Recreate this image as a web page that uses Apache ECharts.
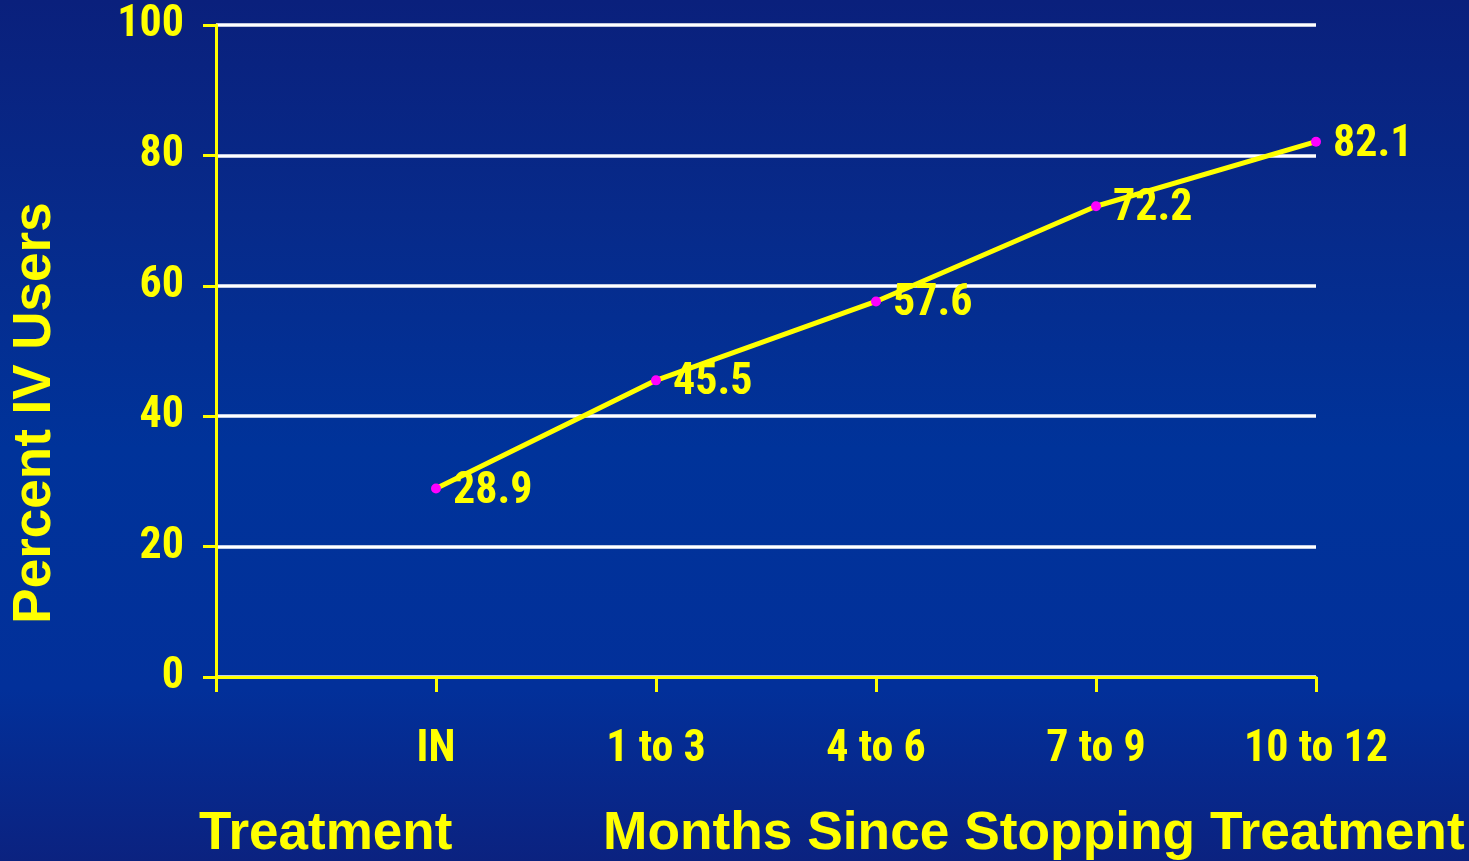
<!DOCTYPE html>
<html>
<head>
<meta charset="utf-8">
<title>Percent IV Users</title>
<script src="https://cdn.jsdelivr.net/npm/echarts@6/dist/echarts.min.js"></script>
<style>
    html, body { margin: 0; padding: 0; }
    #chart {
        width: 1469px;
        height: 861px;
        background: linear-gradient(180deg, #0a207c 0%, #072a8a 25%, #00339a 52%, #02309a 80%, #0b2280 100%);
    }
</style>
</head>
<body>
<div id="chart"></div>
<script>
// first slot is the blank origin category
const CATEGORIES = ['', 'IN', '1 to 3', '4 to 6', '7 to 9', '10 to 12'];
const PERCENT_IV = [null, 28.9, 45.5, 57.6, 72.2, 82.1];
const Y_TICKS = [0, 20, 40, 60, 80, 100];

const YELLOW = '#ffff00';
const NARROW = "'Roboto Condensed', 'Liberation Sans Narrow', 'Arial Narrow', sans-serif";
const WIDE = "'Liberation Sans', Arial, sans-serif";

const chart = echarts.init(document.getElementById('chart'));

chart.setOption({
    backgroundColor: 'transparent',
    animation: false,
    grid: {
        left: 216,
        right: 153,
        top: 25,
        bottom: 184,
        containLabel: false,
        outerBoundsMode: 'none'
    },
    title: [
        {
            text: 'Treatment',
            left: 194,
            top: 803,
            textStyle: { color: YELLOW, fontFamily: WIDE, fontWeight: 'bold', fontSize: 53 }
        },
        {
            text: 'Months Since Stopping Treatment',
            left: 598,
            top: 803,
            textStyle: { color: YELLOW, fontFamily: WIDE, fontWeight: 'bold', fontSize: 53.3 }
        }
    ],
    // y axis title sits lower than the axis centre in the original
    graphic: [{
        type: 'text',
        rotation: Math.PI / 2,
        x: 35,
        y: 413,
        style: {
            text: 'Percent IV Users',
            fill: YELLOW,
            font: "bold 53px 'Liberation Sans', Arial, sans-serif",
            align: 'center',
            verticalAlign: 'middle'
        }
    }],
    xAxis: {
        type: 'category',
        data: CATEGORIES,
        boundaryGap: false,
        axisLine: { lineStyle: { color: YELLOW, width: 3 } },
        axisTick: { show: true, length: 15, lineStyle: { color: YELLOW, width: 3 } },
        axisLabel: {
            color: YELLOW,
            fontFamily: NARROW,
            fontWeight: 'bold',
            fontSize: 44,
            margin: 51,
            interval: 0
        },
        splitLine: { show: false }
    },
    yAxis: {
        type: 'value',
        min: Y_TICKS[0],
        max: Y_TICKS[Y_TICKS.length - 1],
        interval: 20,
        axisLine: { show: true, lineStyle: { color: YELLOW, width: 3 } },
        axisTick: { show: true, length: 13, lineStyle: { color: YELLOW, width: 3 } },
        axisLabel: {
            color: YELLOW,
            fontFamily: NARROW,
            fontWeight: 'bold',
            fontSize: 44,
            margin: 32,
            padding: [8, 0, 0, 0]
        },
        splitLine: { lineStyle: { color: '#ffffff', width: 3.5 } }
    },
    series: [{
        type: 'line',
        data: PERCENT_IV,
        symbol: 'circle',
        symbolSize: 10,
        showSymbol: true,
        lineStyle: { color: YELLOW, width: 5 },
        itemStyle: { color: '#ff00ff' },
        label: {
            show: true,
            position: 'right',
            distance: 12,
            offset: [0, 3],
            color: YELLOW,
            fontFamily: NARROW,
            fontWeight: 'bold',
            fontSize: 44
        },
        z: 10
    }]
});
</script>
</body>
</html>
